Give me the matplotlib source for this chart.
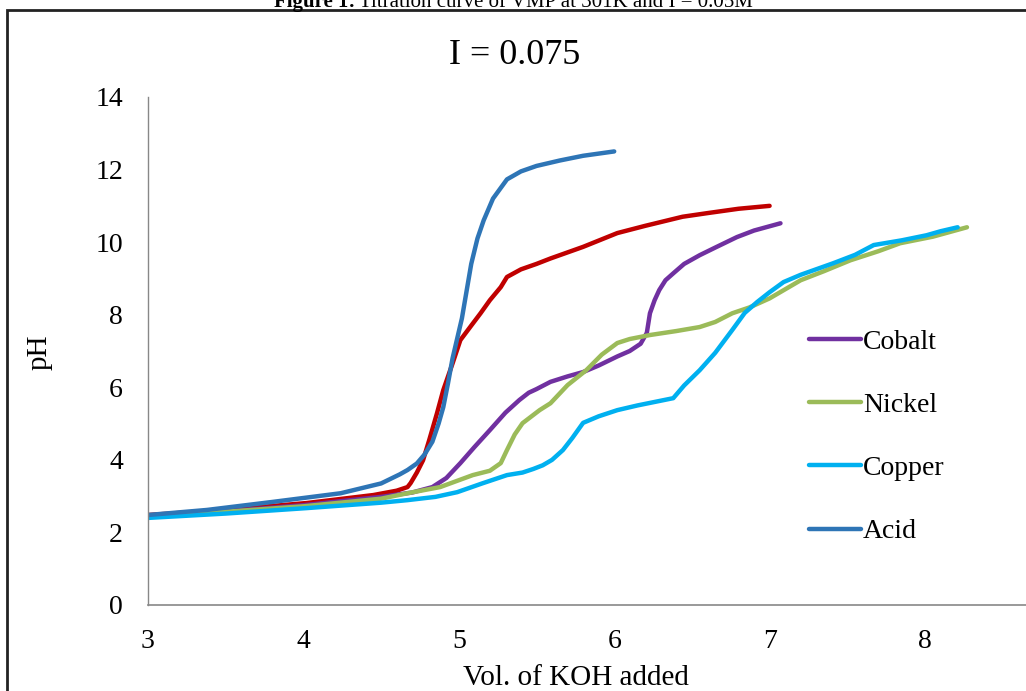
import matplotlib
matplotlib.use("Agg")
import matplotlib.pyplot as plt
from matplotlib.patches import Rectangle

plt.rcParams['font.family'] = ['Liberation Serif', 'DejaVu Serif']

# titration data (vol. of KOH added, pH)
acid_x = [3.0, 3.38, 3.8, 4.24, 4.5, 4.62, 4.67, 4.73, 4.78, 4.83, 4.87, 4.90, 4.93, 4.96,
          5.02, 5.08, 5.12, 5.16, 5.22, 5.31, 5.4, 5.5, 5.65, 5.8, 6.0]
acid_y = [2.48, 2.62, 2.84, 3.08, 3.35, 3.6, 3.72, 3.9, 4.15, 4.5, 5.0, 5.45, 6.1, 6.8,
          7.9, 9.4, 10.1, 10.6, 11.2, 11.73, 11.95, 12.1, 12.25, 12.38, 12.5]

ligand_x = [3.0, 3.5, 4.02, 4.45, 4.6, 4.67, 4.69, 4.73, 4.77, 4.81, 4.86, 4.90, 4.96, 5.01,
            5.08, 5.14, 5.2, 5.27, 5.31, 5.4, 5.5, 5.59, 5.8, 6.02, 6.2, 6.44, 6.6, 6.8, 7.0]
ligand_y = [2.48, 2.62, 2.81, 3.03, 3.15, 3.25, 3.36, 3.65, 3.99, 4.55, 5.29, 5.92, 6.66, 7.3,
            7.7, 8.04, 8.4, 8.76, 9.04, 9.25, 9.4, 9.55, 9.87, 10.25, 10.45, 10.7, 10.8, 10.92, 11.0]

cobalt_x = [3.0, 3.5, 4.0, 4.5, 4.7, 4.83, 4.92, 5.01, 5.1, 5.2, 5.3, 5.39, 5.45, 5.5, 5.59,
            5.7, 5.8, 5.9, 6.02, 6.1, 6.17, 6.21, 6.23, 6.26, 6.29, 6.33, 6.38, 6.45, 6.55,
            6.65, 6.79, 6.9, 7.07]
cobalt_y = [2.45, 2.58, 2.75, 2.98, 3.1, 3.25, 3.5, 3.91, 4.35, 4.82, 5.3, 5.65, 5.85, 5.95, 6.15,
            6.3, 6.42, 6.6, 6.85, 7.0, 7.2, 7.5, 8.04, 8.4, 8.68, 8.95, 9.14, 9.4, 9.64,
            9.85, 10.14, 10.32, 10.52]

nickel_x = [3.0, 3.5, 4.0, 4.5, 4.67, 4.88, 5.09, 5.2, 5.27, 5.31, 5.36, 5.41, 5.52, 5.59, 5.7,
            5.82, 5.92, 6.02, 6.1, 6.23, 6.4, 6.55, 6.65, 6.76, 6.87, 7.0, 7.2, 7.35, 7.52,
            7.7, 7.84, 8.05, 8.27]
nickel_y = [2.45, 2.57, 2.72, 2.93, 3.08, 3.25, 3.58, 3.7, 3.91, 4.27, 4.7, 5.01, 5.37, 5.56, 6.06,
            6.47, 6.9, 7.22, 7.33, 7.44, 7.55, 7.66, 7.8, 8.04, 8.2, 8.45, 8.95, 9.2, 9.5,
            9.75, 9.97, 10.15, 10.41]

copper_x = [3.0, 3.5, 4.02, 4.5, 4.67, 4.85, 4.99, 5.15, 5.31, 5.41, 5.48, 5.54, 5.6, 5.67, 5.73,
            5.8, 5.9, 6.02, 6.15, 6.38, 6.45, 6.55, 6.65, 6.76, 6.84, 6.92, 7.0, 7.09, 7.2,
            7.41, 7.55, 7.67, 7.85, 8.01, 8.1, 8.21]
copper_y = [2.4, 2.52, 2.67, 2.82, 2.89, 2.98, 3.11, 3.35, 3.58, 3.65, 3.75, 3.85, 4.0, 4.27, 4.6,
            5.02, 5.2, 5.37, 5.5, 5.7, 6.05, 6.47, 6.95, 7.58, 8.05, 8.35, 8.62, 8.9, 9.1,
            9.42, 9.65, 9.92, 10.05, 10.19, 10.3, 10.41]

x_ticks = [3, 4, 5, 6, 7, 8]
y_ticks = [0, 2, 4, 6, 8, 10, 12, 14]

W, H = 1026, 691
fig = plt.figure(figsize=(W / 100, H / 100), dpi=100)

# outer frame of the pasted chart (right and bottom sides fall outside the crop)
fig.patches.append(Rectangle((7 / W, -0.2), 1.2, 1.2 - 10 / H, transform=fig.transFigure,
                             fill=False, edgecolor='#222222', linewidth=2))

# caption cut off at the top
fig.text(355 / W, 1 - 7 / H, 'Figure 1:', ha='right', va='baseline', fontsize=15, fontweight='bold')
fig.text(359 / W, 1 - 7 / H, 'Titration curve of VMP at 301K and I = 0.05M',
         ha='left', va='baseline', fontsize=15)

# axes: x=3 at px148, 155.4 px per unit; y 0..14 from px605 to px97
ax = fig.add_axes([148 / W, 1 - 605 / H, 6 * 155.4 / W, (605 - 97) / H])
ax.set_xlim(3, 9)
ax.set_ylim(0, 14)

lw = 3.2
ax.plot(ligand_x, ligand_y, color='#C00000', lw=lw, solid_capstyle='round', solid_joinstyle='round')
ax.plot(cobalt_x, cobalt_y, color='#7030A0', lw=lw, label='Cobalt', solid_capstyle='round', solid_joinstyle='round')
ax.plot(nickel_x, nickel_y, color='#9BBB59', lw=lw, label='Nickel', solid_capstyle='round', solid_joinstyle='round')
ax.plot(copper_x, copper_y, color='#00B0F0', lw=lw, label='Copper', solid_capstyle='round', solid_joinstyle='round')
ax.plot(acid_x, acid_y, color='#2E75B6', lw=lw, label='Acid', solid_capstyle='round', solid_joinstyle='round')

ax.set_xticks(x_ticks)
ax.set_yticks(y_ticks)
ax.tick_params(axis='both', length=0, labelsize=20)
ax.tick_params(axis='y', pad=18)
ax.tick_params(axis='x', pad=17)
for s in ['top', 'right']:
    ax.spines[s].set_visible(False)
ax.spines['left'].set_color('#888888')
ax.spines['bottom'].set_color('#888888')
ax.spines['left'].set_linewidth(1)
ax.spines['bottom'].set_linewidth(1.2)

fig.text(576 / W, 1 - 678 / H, 'Vol. of KOH added', ha='center', va='center', fontsize=21)
fig.text(40 / W, 1 - 352 / H, 'pH', ha='center', va='center', rotation=90, fontsize=21)
fig.text(515 / W, 1 - 55 / H, 'I = 0.075', ha='center', va='center', fontsize=26)

ax.legend(loc='upper left', bbox_to_anchor=(798 / W, 1 - 318 / H), bbox_transform=fig.transFigure,
          frameon=False, fontsize=20, handlelength=1.85, handletextpad=0.08, labelspacing=1.36,
          borderaxespad=0)

fig.savefig('out.png', dpi=100)
